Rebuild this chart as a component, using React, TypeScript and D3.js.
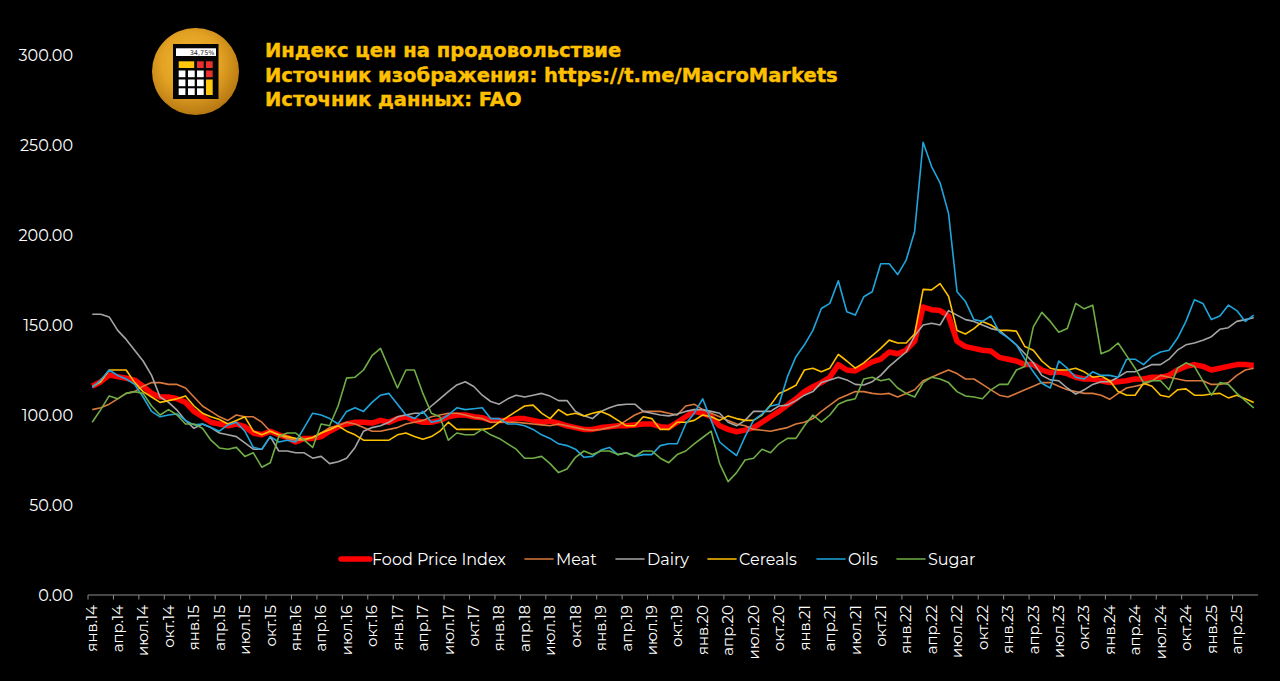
import * as d3 from "d3";
import { useEffect, useRef } from "react";

const monthNames = ["янв", "апр", "июл", "окт"];
const titleLines = [
  "Индекс цен на продовольствие",
  "Источник изображения: https://t.me/MacroMarkets",
  "Источник данных: FAO",
];
const yTicks = [0, 50, 100, 150, 200, 250, 300];

const foodPrice = [
  116, 118.5, 122.2, 121.3, 120.4, 119.4, 116, 112, 110, 110, 109, 107,
  102, 99, 96, 95, 94, 95, 93.5, 90, 89, 91, 89, 87.5,
  85, 87, 87, 88, 91, 93.5, 95, 96, 96, 95.5, 97, 96,
  98, 99, 97, 96, 96, 97, 99, 100, 100, 99, 98.5, 97,
  97, 97, 98, 98, 97, 96, 96.5, 95.5, 94, 93, 92, 92,
  93, 93.5, 94, 94, 94.5, 95, 95, 93.5, 93, 96, 99, 102,
  101, 99, 94, 92, 90.7, 91.6, 93, 96, 99, 102, 105.5, 109,
  113, 115.7, 118, 121, 128, 125, 124.5, 127, 129.5, 131, 135, 134,
  136, 141, 160, 158.5, 158, 155, 141, 138, 137, 136, 135.5, 132,
  131, 130, 128, 128, 125, 123.5, 124, 123, 121, 120, 120, 119,
  118, 118.5, 119, 120, 120, 121, 121, 122, 125, 127, 128, 127,
  125, 126, 127, 128, 128, 127.5,
];
const meat = [
  103, 104, 106, 109, 112, 113, 116, 118, 118, 117, 117, 115,
  110, 105, 102, 99, 97, 100, 99, 99, 96, 91, 89, 87,
  86, 86, 87.5, 90, 93, 94, 96, 95, 93, 91, 91, 92,
  93, 95, 96, 97, 99, 100, 101, 101, 100, 98.7, 98, 96,
  96, 96, 96, 95.5, 95, 94.5, 94, 95, 94, 93, 92, 91.5,
  92, 93, 94, 97, 100, 102, 102, 102, 101, 100, 105, 106,
  103, 101, 99, 97, 95, 94, 92, 91.5, 91, 92, 93, 95,
  96, 98, 102, 105.5, 109, 111, 113, 113, 112, 111.5, 112, 110,
  112, 114, 119, 121, 123, 125, 123, 120, 120, 117, 114, 111,
  110, 112, 114, 116, 118, 118, 116, 114, 113, 112, 112, 111,
  108.7, 112, 115, 116, 117, 119, 122, 121, 120, 119, 119, 119,
  117, 117, 118, 122, 125, 126,
];
const dairy = [
  156, 156, 154.5, 147, 142, 136, 130, 122, 110, 107, 102.7, 97,
  92.6, 95, 93, 90, 89, 88, 84.5, 81, 81, 88, 80, 80,
  79, 79, 76, 77, 73, 74, 76, 82, 91, 93, 94, 96,
  99, 100, 101, 101, 105, 109, 113, 116.7, 118.5, 115.8, 111, 107.5,
  106, 109, 111, 110, 111, 112, 110.5, 108, 108, 102, 99.6, 98,
  102, 104, 105.5, 106, 106, 102, 101, 100, 99.5, 100.5, 102, 103,
  103, 102, 101, 96, 94, 97, 102, 102, 102, 105, 105.5, 108,
  111, 113, 118, 119.5, 121, 119.5, 117, 116.7, 118.5, 122, 127, 131,
  135, 144, 150, 151, 150, 158, 155.5, 153, 152, 150, 148, 147,
  143, 139, 134, 129, 122, 119.5, 119, 115, 111.6, 114, 117, 118.5,
  118.5, 121, 124, 124, 126, 128, 128, 131, 136, 139, 140, 141.5,
  143.5, 147.6, 148.5, 152, 153, 154,
];
const cereals = [
  115.7, 118.5, 125, 125, 125, 118, 113, 110, 107, 108, 109, 110.6,
  105, 101, 99, 97.5, 95, 97, 99, 91, 89, 91, 89, 88,
  87, 86.5, 87.5, 90, 91.8, 94, 91, 89, 86, 86, 86, 86,
  89, 90, 88, 86.5, 88, 91, 96, 92, 92, 92, 92, 92.6,
  96, 99, 102, 105, 105.5, 101, 98, 103, 100, 101, 99.5, 101,
  102, 100, 97, 94, 94, 99, 98, 92, 92, 96, 96, 97,
  100, 99, 97, 99.5, 98, 97, 97, 100, 105.5, 112, 114, 116.5,
  125, 126, 124, 126, 133.7, 130, 126, 129, 133, 137, 141.6, 140,
  140, 145, 169.8, 169.5, 173, 166, 147, 145, 148, 152, 150, 147,
  147, 146.6, 138, 136, 130, 126, 125, 125, 126, 124, 121, 121.7,
  119, 113, 111, 111, 117.6, 116, 111, 110, 114, 114.5, 111, 111,
  111.7, 112, 109.5, 111, 109, 107,
];
const oils = [
  115.4, 119.4, 125, 122, 120, 117, 110, 102, 99, 100, 100.6, 97,
  94.5, 95, 93, 91, 94.5, 96, 91, 82, 81, 88, 85, 86,
  85, 93, 101, 100, 98, 95, 102, 104, 102, 107, 111, 112,
  106, 100, 98, 102, 96, 97, 100, 104, 103, 103.5, 104, 98,
  98, 95, 95, 94, 92, 89, 87, 84, 83, 81, 76.5, 77,
  80.5, 82, 78, 79, 77, 78, 78, 83, 84, 84, 95, 101,
  109, 97, 85, 81, 77.5, 88, 97, 100.5, 105, 106, 121.3, 132.4,
  139, 147, 159.2, 162, 174.6, 157.4, 155.5, 165.7, 168.5, 184, 184, 178,
  186, 202, 251.5, 238, 229, 212, 168.5, 163, 153, 152, 155, 146,
  143, 139, 131, 124, 117.6, 115, 130, 126, 121, 120, 124, 122,
  122, 121, 131, 131, 128, 132.5, 135, 136, 142.6, 152, 164, 162,
  153, 155, 161, 158, 152, 155.5,
];
const sugar = [
  96, 103, 110.6, 109, 112, 113, 112, 105, 100, 103, 100, 95,
  95, 92.6, 86, 81.7, 81, 82, 77, 79, 71, 73.5, 88, 90,
  90, 86, 82, 95, 94, 105, 120.5, 121, 125, 133, 137, 126,
  115, 125, 125, 112, 101, 99, 86, 90, 89, 89, 92, 89,
  87, 84, 81, 76, 76, 77, 73, 68, 70, 76.5, 80, 78,
  80, 80, 78, 79, 77, 80, 80, 76, 73.5, 78, 80, 84,
  87.5, 91, 73, 63, 68, 75, 76, 81, 79, 84, 87, 87,
  94, 100, 96, 100, 106, 108, 109, 120, 121, 119, 120, 115,
  112, 110, 118, 121, 120, 118, 113, 110.6, 110, 109, 114, 117,
  117, 125, 127, 149, 157, 152, 146, 148, 162, 159, 161, 134,
  136, 140, 133, 126, 118, 119, 119, 114, 126, 129, 127, 119,
  111, 118, 117, 112, 108, 104,
];

const seriesList = [
  { name: "Food Price Index", values: foodPrice, color: "#ff0000", width: 5.5, keyX: 341, keyEnd: 370, textX: 372 },
  { name: "Meat", values: meat, color: "#d9793c", width: 1.6, keyX: 525, keyEnd: 553, textX: 556 },
  { name: "Dairy", values: dairy, color: "#a5a5a5", width: 1.6, keyX: 616, keyEnd: 644, textX: 647 },
  { name: "Cereals", values: cereals, color: "#ffc000", width: 1.6, keyX: 708, keyEnd: 736, textX: 739 },
  { name: "Oils", values: oils, color: "#1fa5dc", width: 1.6, keyX: 817, keyEnd: 845, textX: 848 },
  { name: "Sugar", values: sugar, color: "#70ad47", width: 1.6, keyX: 897, keyEnd: 925, textX: 928 },
];

// monthly labels from янв.14, only every third one is shown
const ruMonths = ["янв", "фев", "мар", "апр", "май", "июн", "июл", "авг", "сен", "окт", "ноя", "дек"];
const categories = foodPrice.map((_, i) => `${ruMonths[i % 12]}.${14 + Math.floor(i / 12)}`);

const fontName = "Montserrat, Inter, 'Noto Sans', sans-serif";

function Logo() {
  const cols = [178.7, 188, 197, 206];
  const rows = [61.3, 70.5, 79.5, 88.3];
  const btn = 6.7;
  const cells: [number, number, string][] = [
    [2, 0, "#e8302e"], [3, 0, "#e8302e"],
    [0, 1, "#fff"], [1, 1, "#fff"], [2, 1, "#fff"], [3, 1, "#e8302e"],
    [0, 2, "#fff"], [1, 2, "#fff"], [2, 2, "#fff"],
    [0, 3, "#fff"], [1, 3, "#fff"], [2, 3, "#fff"],
  ];
  return (
    <g>
      <defs>
        <radialGradient id="gold" cx="45%" cy="40%" r="62%">
          <stop offset="0%" stopColor="#f5bb35" />
          <stop offset="55%" stopColor="#e3a222" />
          <stop offset="100%" stopColor="#b37512" />
        </radialGradient>
      </defs>
      <circle cx={195.5} cy={71.5} r={43.5} fill="url(#gold)" />
      <rect x={173} y={44} width={45.5} height={55} fill="#050505" />
      <rect x={176} y={48.3} width={40} height={7.7} fill="#fff" />
      <text x={214.5} y={54.8} textAnchor="end" fontSize={6.5} fontFamily="'DejaVu Sans'" fill="#222">34,75%</text>
      <rect x={178.7} y={61.3} width={15.5} height={btn} fill="#ffc60b" />
      <rect x={206} y={79.5} width={6.7} height={15.5} fill="#ffc60b" />
      {cells.map(([c, r, fill]) => (
        <rect key={`${c}-${r}`} x={cols[c]} y={rows[r]} width={btn} height={btn} fill={fill} />
      ))}
    </g>
  );
}

export default function App() {
  const chartRef = useRef<SVGGElement>(null);

  useEffect(() => {
    document.body.style.margin = "0";
    document.body.style.background = "#000";
    const g = d3.select(chartRef.current!);
    g.selectAll("*").remove();

    const x = d3.scaleBand<string>().domain(categories).range([88, 1258]);
    const y = d3.scaleLinear().domain([0, 300]).range([595, 55]);
    const mid = (i: number) => x(categories[i])! + x.bandwidth() / 2;

    // y labels, no axis line
    g.append("g")
      .selectAll("text")
      .data(yTicks)
      .join("text")
      .attr("x", 73)
      .attr("y", (d) => y(d) + 0.5)
      .attr("dy", "0.35em")
      .attr("text-anchor", "end")
      .attr("fill", "#fff")
      .attr("font-size", 16)
      .text((d) => d.toFixed(2));

    // x axis, ticks sit on band edges
    const tickIdx = categories.map((_, i) => i).filter((i) => i % 3 === 0);
    const axis = g.append("g");
    axis.append("line")
      .attr("x1", 88).attr("x2", 1258)
      .attr("y1", 595).attr("y2", 595)
      .attr("stroke", "#8c8c8c").attr("stroke-width", 1.2);
    axis.selectAll("line.tick")
      .data(tickIdx)
      .join("line")
      .attr("class", "tick")
      .attr("x1", (i) => x(categories[i])!)
      .attr("x2", (i) => x(categories[i])!)
      .attr("y1", 595).attr("y2", 599.5)
      .attr("stroke", "#8c8c8c");
    axis.selectAll("text")
      .data(tickIdx)
      .join("text")
      .attr("transform", (i) => `translate(${mid(i)},605) rotate(-90)`)
      .attr("dy", "0.35em")
      .attr("text-anchor", "end")
      .attr("fill", "#fff")
      .attr("font-size", 15)
      .text((i) => `${monthNames[(i / 3) % 4]}.${14 + Math.floor(i / 12)}`);

    const line = d3.line<number>().x((_, i) => mid(i)).y((d) => y(d));
    g.append("g")
      .attr("fill", "none")
      .attr("stroke-linejoin", "round")
      .selectAll("path")
      .data(seriesList)
      .join("path")
      .attr("stroke", (d) => d.color)
      .attr("stroke-width", (d) => d.width)
      .attr("d", (d) => line(d.values));

    const key = g.append("g").selectAll("g").data(seriesList).join("g");
    key.append("line")
      .attr("x1", (d) => d.keyX).attr("x2", (d) => d.keyEnd)
      .attr("y1", 559).attr("y2", 559)
      .attr("stroke", (d) => d.color)
      .attr("stroke-width", (d) => d.width)
      .attr("stroke-linecap", "round");
    key.append("text")
      .attr("x", (d) => d.textX)
      .attr("y", 559)
      .attr("dy", "0.35em")
      .attr("fill", "#fff")
      .attr("font-size", 16)
      .text((d) => d.name);
  }, []);

  return (
    <svg width={1280} height={681} style={{ display: "block", background: "#000" }} fontFamily={fontName}>
      <g ref={chartRef} />
      <Logo />
      {titleLines.map((t, i) => (
        <text key={t} x={265} y={57 + i * 24.5} fill="#ffc000" stroke="#ffc000" strokeWidth={0.4} fontSize={19.5} fontWeight={700} fontFamily="'DejaVu Sans', sans-serif">
          {t}
        </text>
      ))}
    </svg>
  );
}
